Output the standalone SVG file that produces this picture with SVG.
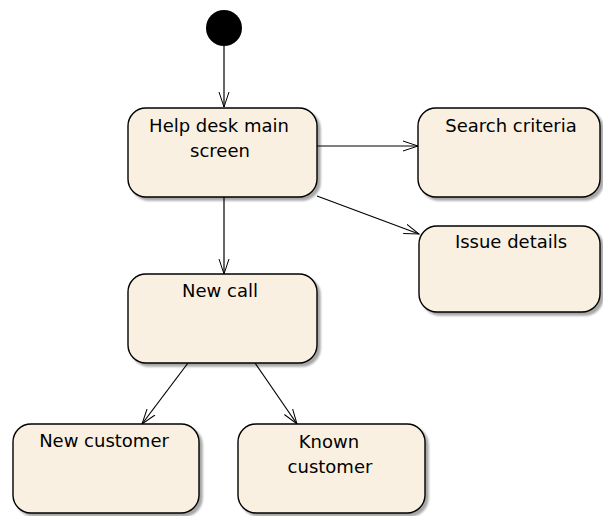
<svg xmlns="http://www.w3.org/2000/svg" width="603" height="516" viewBox="0 0 603 516">
<defs>
<marker id="open" viewBox="0 0 16 12" refX="15" refY="6" markerWidth="16" markerHeight="12" markerUnits="userSpaceOnUse" orient="auto">
<path d="M0,1 L15,6 L0,11" fill="none" stroke="#000" stroke-width="1"/>
</marker>
<filter id="sh" x="-10%" y="-10%" width="130%" height="130%">
<feGaussianBlur in="SourceAlpha" stdDeviation="1.2"/>
<feOffset dx="3" dy="3"/>
<feComponentTransfer><feFuncA type="linear" slope="0.35"/></feComponentTransfer>
<feMerge><feMergeNode/><feMergeNode in="SourceGraphic"/></feMerge>
</filter>
</defs>
<style>
.st{fill:#FAF0E1;stroke:#000;stroke-width:1.4;filter:url(#sh)}
.t{font-family:"DejaVu Sans",sans-serif;font-size:18px;fill:#000;text-anchor:middle}
.c{fill:none;stroke:#000;stroke-width:1.2;marker-end:url(#open)}
</style>
<rect width="603" height="516" fill="#fff"/>
<g id="connectors">
<line class="c" x1="224" y1="46" x2="224" y2="107"/>
<line class="c" x1="317" y1="146" x2="418" y2="146"/>
<line class="c" x1="317" y1="196" x2="419" y2="234"/>
<line class="c" x1="224" y1="197" x2="224" y2="274"/>
<line class="c" x1="188" y1="363" x2="142" y2="424"/>
<line class="c" x1="255" y1="363" x2="297" y2="424"/>
</g>
<g id="start"><circle cx="224" cy="28" r="18" fill="#000"/></g>
<g id="help-desk"><rect class="st" x="128" y="108" width="189" height="89" rx="18"/>
<text class="t" x="219" y="132">Help desk main</text><text class="t" x="220" y="157">screen</text></g>
<g id="search-criteria"><rect class="st" x="418" y="108" width="182" height="89" rx="18"/>
<text class="t" x="511" y="132">Search criteria</text></g>
<g id="issue-details"><rect class="st" x="419" y="226" width="181" height="86" rx="18"/>
<text class="t" x="511" y="248">Issue details</text></g>
<g id="new-call"><rect class="st" x="128" y="274" width="189" height="89" rx="18"/>
<text class="t" x="220" y="297">New call</text></g>
<g id="new-customer"><rect class="st" x="13" y="424" width="186" height="89" rx="18"/>
<text class="t" x="104" y="447">New customer</text></g>
<g id="known-customer"><rect class="st" x="238" y="424" width="187" height="89" rx="18"/>
<text class="t" x="329" y="448">Known</text><text class="t" x="330" y="473">customer</text></g>
</svg>
